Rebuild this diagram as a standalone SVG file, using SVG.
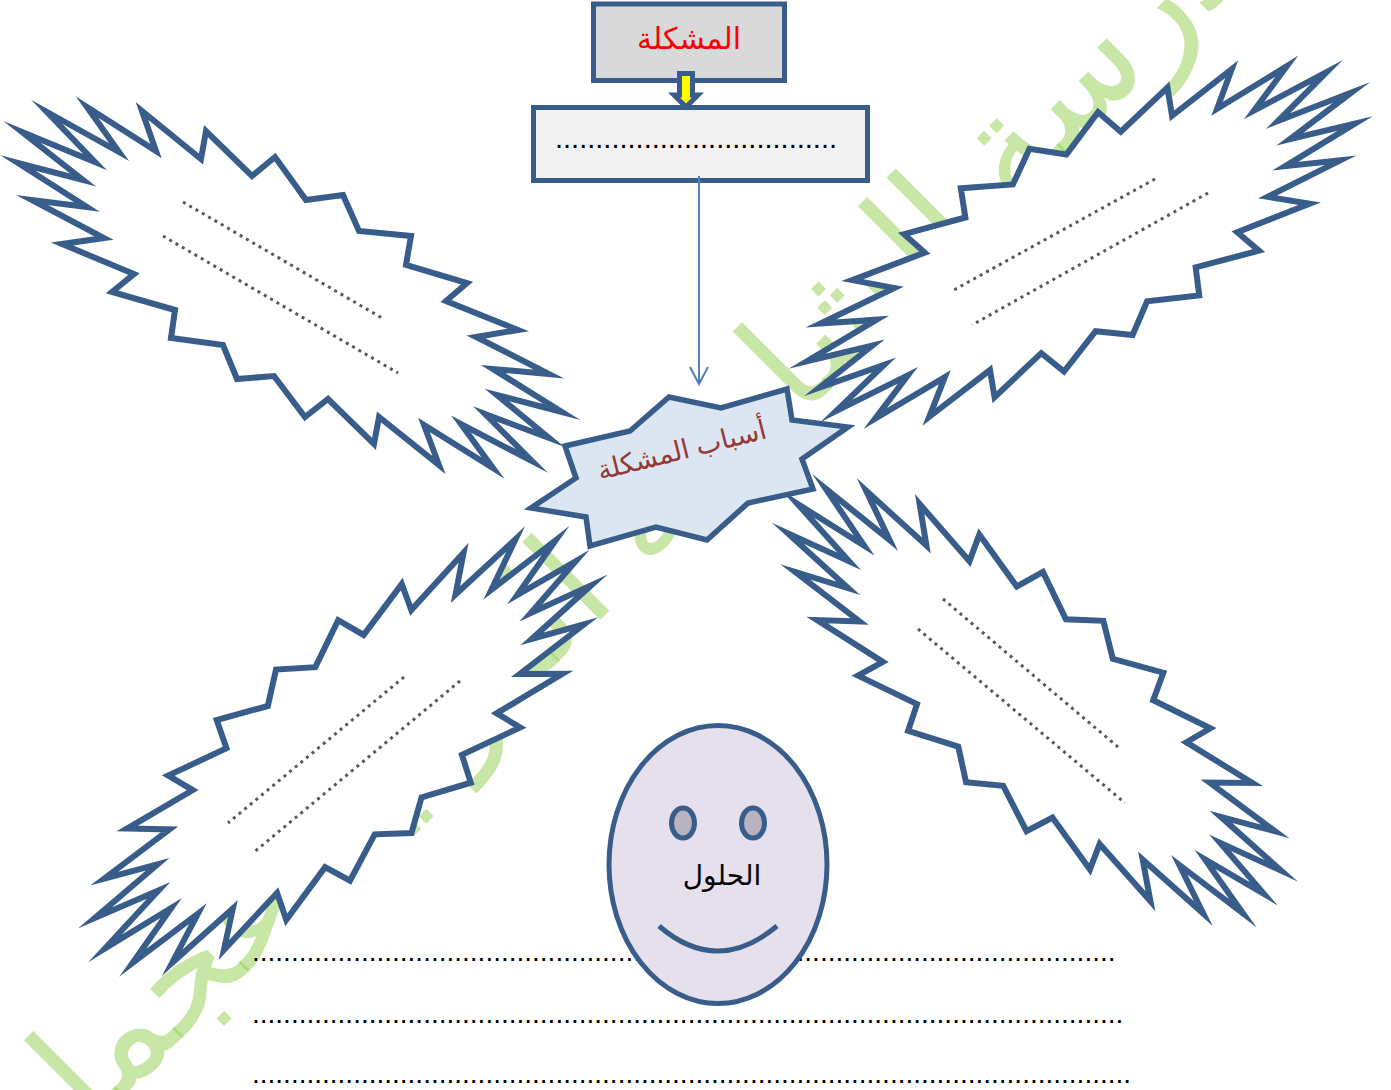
<svg xmlns="http://www.w3.org/2000/svg" xmlns:xlink="http://www.w3.org/1999/xlink" width="1391" height="1090" viewBox="0 0 1391 1090">
<style>
.s{stroke:#385d8a;stroke-width:5;stroke-linejoin:miter;stroke-miterlimit:40}
.seal{fill:#fff;stroke-width:6}
.dot{stroke:#595959;stroke-width:3;stroke-dasharray:3 4.3;fill:none}
.ar{font-family:"Liberation Sans","DejaVu Sans",sans-serif;direction:rtl;text-anchor:middle}
.rows{font-family:"Liberation Sans",sans-serif;font-size:28px;fill:#000}
</style>
<defs>
<polygon id="seal" class="s seal" points="175,310 112,292 134,274 62,244 104,238 32,200 87,207 18,163 83,180 22,132 95,162 47,112 119,152 87,107 156,151 142,111 201,159 206,131 252,176 275,157 306,200 343,195 359,231 411,236 406,265 467,283 446,301 518,330 476,337 549,374 493,369 562,412 497,395 549,438 485,414 532,461 461,424 493,468 424,425 439,465 379,417 374,444 328,399 305,417 274,376 237,379 223,345 171,338"/>
<marker id="open" markerUnits="userSpaceOnUse" markerWidth="24" markerHeight="24" refX="18" refY="10" orient="auto"><path d="M1,1 L18,10 L1,19" fill="none" stroke="#4f81bd" stroke-width="2"/></marker>
</defs>
<text id="watermark" transform="translate(664,556) rotate(-45)" class="ar" font-size="145" fill="#92d050" fill-opacity=".5">مدرسة الشارقة الدولية عجمان</text>
<g id="star-top-left"><use href="#seal"/><path class="dot" d="M183,202L382,318M163,236L398,373"/></g>
<g id="star-top-right"><use href="#seal" transform="matrix(-1,-.021,-.0156,1,1375.5,-39)"/><path class="dot" d="M1155,179L952,291M1208,193L972,325"/></g>
<g id="star-bottom-right"><use href="#seal" transform="matrix(.988,.173,-.177,.977,799,371)"/><path class="dot" d="M943,599L1118,747M918,629L1125,803"/></g>
<g id="star-bottom-left"><use href="#seal" transform="matrix(.349,-.937,.937,.349,-26.4,922.9)"/><path class="dot" d="M404,677L228,823M460,681L253,853"/></g>
<g id="problem-detail"><rect class="s" x="533.5" y="107.5" width="334" height="73" fill="#f2f2f2"/><text class="rows" x="555" y="148" style="font-size:29px">...................................</text></g>
<g id="problem"><rect class="s" x="593.5" y="4" width="191" height="76.5" fill="#d9d9d9"/><text class="ar" x="689" y="49" font-size="30" fill="#ff0000">المشكلة</text></g>
<g id="causes"><polygon class="s" style="stroke-width:5.5" fill="#dce6f2" points="565,446 630,431 669,397 721,408 787,389 792,420 848,427 802,459 813,489 748,503 707,540 656,527 590,546 586,517 531,508 576,478"/><text class="ar" transform="translate(684,459) rotate(-14)" font-size="27" fill="#953735">أسباب المشكلة</text></g>
<g id="rows"><text class="rows" x="252" y="961">...............................................................................................................</text><text class="rows" x="252" y="1023">................................................................................................................</text><text class="rows" x="252" y="1083">.................................................................................................................</text></g>
<g id="solutions"><ellipse class="s" cx="718" cy="864.5" rx="109" ry="139" fill="#e6e0ec"/><ellipse class="s" cx="683" cy="823" rx="11.5" ry="15" fill="#b9b3c0"/><ellipse class="s" cx="753" cy="823" rx="11.5" ry="15" fill="#b9b3c0"/><path class="s" d="M659,926Q717,976 777,926" fill="none"/><text class="ar" x="722" y="885" font-size="28" fill="#000">الحلول</text></g>
<g id="connectors"><line x1="699" y1="176" x2="699" y2="384" stroke="#4f81bd" stroke-width="2" marker-end="url(#open)"/><polygon class="s" fill="#ffff00" points="679.5,73.5 692.5,73.5 692.5,95 698,95 686,107 674,95 679.5,95"/></g>
</svg>
